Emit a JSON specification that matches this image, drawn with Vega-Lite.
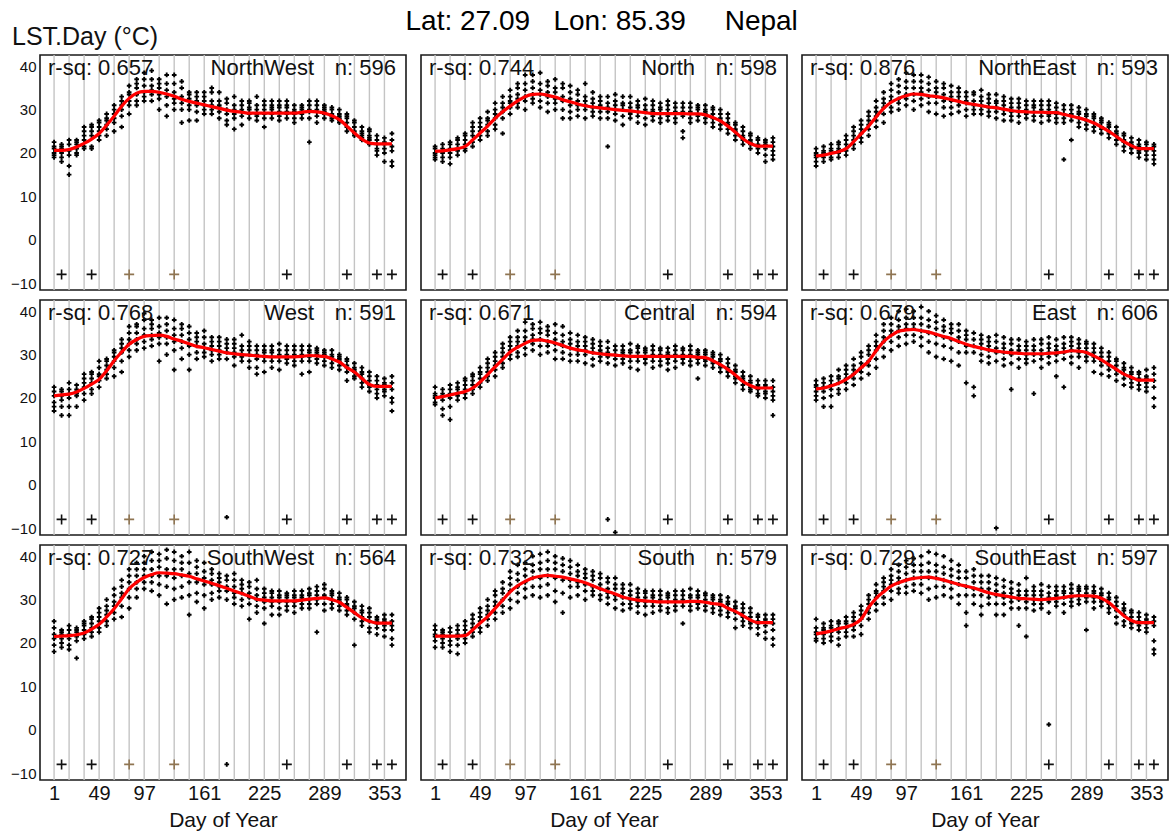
{
"$schema": "https://vega.github.io/schema/vega-lite/v6.json",
"padding": {"left": 10, "top": 8, "right": 5, "bottom": 2},
"bounds": "flush",
"title": {"text": "Lat: 27.09\u00a0\u00a0 Lon: 85.39\u00a0\u00a0\u00a0\u00a0 Nepal", "fontSize": 28, "fontWeight": "normal", "font": "Liberation Sans", "color": "black", "anchor": "middle", "offset": -22, "dx": 12},
"data": {"values": [
{"p":"NW","d":1,"s":20.6,"v":[19,19.5,20,21,21.5,22.5],"r":"r-sq: 0.657","n":"n: 596","m":"NorthWest"},
{"p":"NW","d":9,"s":20.6,"v":[18,19,20,21,21.5,22]},
{"p":"NW","d":17,"s":20.8,"v":[15,17,19.5,20.5,22,23]},
{"p":"NW","d":25,"s":21.4,"v":[19.5,20,21,22,22.5,23]},
{"p":"NW","d":33,"s":22.2,"v":[21,21.5,23,24,25,26]},
{"p":"NW","d":41,"s":23.2,"v":[21,21.5,24,25,26,26.5]},
{"p":"NW","d":49,"s":24.5,"v":[23,24,25,26,27,27.5]},
{"p":"NW","d":57,"s":26.4,"v":[24,25.5,26.5,27.5,28,29]},
{"p":"NW","d":65,"s":28.5,"v":[25,27,28,29,30,31]},
{"p":"NW","d":73,"s":30.8,"v":[26,28.5,30,31,32,33]},
{"p":"NW","d":81,"s":32.6,"v":[29,31,32,33.5,34,35.5]},
{"p":"NW","d":89,"s":33.8,"v":[31,32,33.5,35,36,37]},
{"p":"NW","d":97,"s":34.2,"v":[32,33,34,35.5,37,38.5]},
{"p":"NW","d":105,"s":34.2,"v":[32,33.5,34.5,35.5,37,39]},
{"p":"NW","d":113,"s":34.0,"v":[30,32.5,33.5,35,36,37]},
{"p":"NW","d":121,"s":33.6,"v":[28.5,31,33,34.5,36,38]},
{"p":"NW","d":129,"s":33.1,"v":[30,31.5,32.5,34,36,38]},
{"p":"NW","d":137,"s":32.4,"v":[27,30,31.5,33,35,36.5]},
{"p":"NW","d":145,"s":31.9,"v":[27.5,30,31,32.5,33.5,34]},
{"p":"NW","d":153,"s":31.5,"v":[27.5,29.5,31,32,33,34]},
{"p":"NW","d":161,"s":31.1,"v":[29,30,31,32,33,34]},
{"p":"NW","d":169,"s":30.7,"v":[29,30,31,32,34,35]},
{"p":"NW","d":177,"s":30.3,"v":[28,29.5,30.5,31,32,34]},
{"p":"NW","d":185,"s":29.9,"v":[26.5,27.5,29,30,31.5,32.5]},
{"p":"NW","d":193,"s":29.6,"v":[25.5,28,29,30,31,33]},
{"p":"NW","d":201,"s":29.4,"v":[26.5,28.5,29.5,30,31,32]},
{"p":"NW","d":209,"s":29.2,"v":[28,29,30,30.5,31.5,32]},
{"p":"NW","d":217,"s":29.2,"v":[27.5,28.5,29,30,31,33]},
{"p":"NW","d":225,"s":29.2,"v":[26,28,29,30,31,32]},
{"p":"NW","d":233,"s":29.2,"v":[28,29,30,30.5,31,32]},
{"p":"NW","d":241,"s":29.2,"v":[27.5,28.5,29.5,30.5,31,32]},
{"p":"NW","d":249,"s":29.2,"v":[28,29,29.5,30.5,31,32]},
{"p":"NW","d":257,"s":29.2,"v":[27,28,29,29.5,30,31]},
{"p":"NW","d":265,"s":29.4,"v":[28,29,29.5,30,30.5,31]},
{"p":"NW","d":273,"s":29.6,"v":[22.5,28,29.5,30,31,32]},
{"p":"NW","d":281,"s":29.5,"v":[27,28.5,29.5,30,31,32]},
{"p":"NW","d":289,"s":29.2,"v":[28,29,29.5,30,30.5,31]},
{"p":"NW","d":297,"s":28.6,"v":[27.5,28,28.5,29,30,30.5]},
{"p":"NW","d":305,"s":27.7,"v":[27,27.5,28,28.5,29,30]},
{"p":"NW","d":313,"s":26.2,"v":[25,26,27,28,28.5,29]},
{"p":"NW","d":321,"s":24.6,"v":[24,24.5,25,26,27,27.5]},
{"p":"NW","d":329,"s":23.2,"v":[23,23.5,24,24.5,25,26]},
{"p":"NW","d":337,"s":22.3,"v":[22,23,23.5,24,25,25.5]},
{"p":"NW","d":345,"s":22.1,"v":[19.5,20.5,21,22,23,24]},
{"p":"NW","d":353,"s":22.1,"v":[18,20,21,22,22.5,23.5]},
{"p":"NW","d":361,"s":22.1,"v":[17,18,20.5,21.5,23,24.5]},
{"p":"N","d":1,"s":20.4,"v":[18.5,19,19.5,20,21,21.5],"r":"r-sq: 0.744","n":"n: 598","m":"North"},
{"p":"N","d":9,"s":20.5,"v":[18,19,20,20.5,21,22]},
{"p":"N","d":17,"s":20.7,"v":[17.5,19,20,21,22,22.5]},
{"p":"N","d":25,"s":21.0,"v":[19.5,20.5,21,22,23,23.5]},
{"p":"N","d":33,"s":21.5,"v":[20.5,21,22,23,24,24.5]},
{"p":"N","d":41,"s":23.0,"v":[21.5,22.5,24,25,26,27]},
{"p":"N","d":49,"s":24.6,"v":[23,24,25,26,27,28]},
{"p":"N","d":57,"s":26.2,"v":[24,25,26.5,27.5,28,29.5]},
{"p":"N","d":65,"s":28.0,"v":[25.5,26.5,28,29,30,31.5]},
{"p":"N","d":73,"s":29.5,"v":[24.5,28,29.5,30.5,31.5,33]},
{"p":"N","d":81,"s":30.8,"v":[29,30.5,31.5,32,33,34.5]},
{"p":"N","d":89,"s":32.0,"v":[30.5,31.5,32.5,33.5,35,36]},
{"p":"N","d":97,"s":33.0,"v":[30,32,33,34.5,36,38]},
{"p":"N","d":105,"s":33.5,"v":[31.5,32.5,33.5,35,36.5,38]},
{"p":"N","d":113,"s":33.6,"v":[30.5,32,33.5,34.5,36,38.5]},
{"p":"N","d":121,"s":33.3,"v":[29.5,31.5,33,34,35.5,36.5]},
{"p":"N","d":129,"s":32.9,"v":[30,31.5,32.5,34,35,37]},
{"p":"N","d":137,"s":32.3,"v":[28,30,32,33,35,36]},
{"p":"N","d":145,"s":31.8,"v":[28,29.5,31,32.5,34,35.5]},
{"p":"N","d":153,"s":31.3,"v":[28.5,30,31,32,33.5,34.5]},
{"p":"N","d":161,"s":30.9,"v":[28,30,31,32,33,36]},
{"p":"N","d":169,"s":30.6,"v":[28.5,29.5,30.5,31.5,32.5,34]},
{"p":"N","d":177,"s":30.4,"v":[28,29.5,30.5,31,32,33]},
{"p":"N","d":185,"s":30.2,"v":[21.5,28,29.5,30.5,31.5,33]},
{"p":"N","d":193,"s":30.0,"v":[27.5,29,30,31,32,33.5]},
{"p":"N","d":201,"s":29.8,"v":[26.5,28.5,30,31,31.5,33]},
{"p":"N","d":209,"s":29.7,"v":[28,29,29.5,30.5,31.5,33]},
{"p":"N","d":217,"s":29.5,"v":[27,28.5,29.5,30.5,31,32]},
{"p":"N","d":225,"s":29.3,"v":[26.5,28,29.5,30,31,32.5]},
{"p":"N","d":233,"s":29.1,"v":[27.5,28.5,29.5,30,31,32]},
{"p":"N","d":241,"s":29.1,"v":[27,28,29,30,30.5,31.5]},
{"p":"N","d":249,"s":29.1,"v":[27.5,28.5,29,30,31,32]},
{"p":"N","d":257,"s":29.1,"v":[27,28,29,29.5,30.5,31.5]},
{"p":"N","d":265,"s":29.1,"v":[23.5,25,28.5,29.5,30.5,31.5]},
{"p":"N","d":273,"s":29.0,"v":[27,28,29,29.5,30.5,31.5]},
{"p":"N","d":281,"s":29.0,"v":[27.5,28.5,29,30,30.5,31]},
{"p":"N","d":289,"s":28.8,"v":[27,28,29,29.5,30,31]},
{"p":"N","d":297,"s":28.2,"v":[26,27,28,29,30,30.5]},
{"p":"N","d":305,"s":27.4,"v":[25.5,26.5,27.5,28,29,30]},
{"p":"N","d":313,"s":26.2,"v":[24.5,25.5,26.5,27,28,29]},
{"p":"N","d":321,"s":24.8,"v":[23,24,25,25.5,26.5,27]},
{"p":"N","d":329,"s":23.3,"v":[22,23,23.5,24,25,26]},
{"p":"N","d":337,"s":22.2,"v":[21,22,22.5,23,24,24.5]},
{"p":"N","d":345,"s":21.6,"v":[20,21,21.5,22,23,23.5]},
{"p":"N","d":353,"s":21.6,"v":[18,19.5,21,22,22.5,23]},
{"p":"N","d":361,"s":21.6,"v":[18.5,19.5,20.5,21.5,22.5,23.5]},
{"p":"NE","d":1,"s":19.3,"v":[17,18,19,19.5,20,21],"r":"r-sq: 0.876","n":"n: 593","m":"NorthEast"},
{"p":"NE","d":9,"s":19.5,"v":[18,19,19.5,20,20.5,21.5]},
{"p":"NE","d":17,"s":19.9,"v":[18.5,19,20,20.5,21,22]},
{"p":"NE","d":25,"s":20.3,"v":[19,20,20.5,21,22,22.5]},
{"p":"NE","d":33,"s":21.0,"v":[19.5,20.5,21,22,23,24]},
{"p":"NE","d":41,"s":22.6,"v":[21,22,23,24,25,26]},
{"p":"NE","d":49,"s":24.4,"v":[22.5,23.5,24.5,25.5,26.5,27.5]},
{"p":"NE","d":57,"s":26.2,"v":[24,25.5,26.5,27.5,28.5,29.5]},
{"p":"NE","d":65,"s":28.3,"v":[26,27.5,28.5,29.5,30.5,32]},
{"p":"NE","d":73,"s":30.3,"v":[27,29,30.5,31.5,32.5,34]},
{"p":"NE","d":81,"s":31.7,"v":[29.5,30.5,32,33,34.5,36]},
{"p":"NE","d":89,"s":32.6,"v":[30,31.5,32.5,34,35.5,37]},
{"p":"NE","d":97,"s":33.2,"v":[31,32.5,33.5,35,36.5,38.5]},
{"p":"NE","d":105,"s":33.6,"v":[30,32,33.5,35,36.5,38]},
{"p":"NE","d":113,"s":33.5,"v":[31,32.5,34,35,36.5,38]},
{"p":"NE","d":121,"s":33.2,"v":[29.5,31.5,33,34.5,36,37.5]},
{"p":"NE","d":129,"s":33.0,"v":[29,31.5,33,34,35,36.5]},
{"p":"NE","d":137,"s":32.7,"v":[28.5,30.5,32,33.5,35,36]},
{"p":"NE","d":145,"s":32.3,"v":[29,30.5,32,33,34,35.5]},
{"p":"NE","d":153,"s":31.9,"v":[29.5,31,32,33,34,35]},
{"p":"NE","d":161,"s":31.5,"v":[28.5,30,31.5,32,33,34]},
{"p":"NE","d":169,"s":31.2,"v":[29,30,31,32,33.5,34]},
{"p":"NE","d":177,"s":30.9,"v":[29,30,31,32,33,34.5]},
{"p":"NE","d":185,"s":30.6,"v":[28.5,29.5,30.5,31.5,32.5,33.5]},
{"p":"NE","d":193,"s":30.4,"v":[28,29.5,30.5,31.5,32,33.5]},
{"p":"NE","d":201,"s":30.1,"v":[27.5,29,30,31,32,33]},
{"p":"NE","d":209,"s":29.8,"v":[27.5,28.5,29.5,30.5,31.5,32.5]},
{"p":"NE","d":217,"s":29.6,"v":[27,28.5,29.5,30.5,31.5,32.5]},
{"p":"NE","d":225,"s":29.5,"v":[28,29,29.5,30,31,32]},
{"p":"NE","d":233,"s":29.4,"v":[27.5,28.5,29.5,30.5,31,32]},
{"p":"NE","d":241,"s":29.4,"v":[27,28.5,29.5,30,31,32]},
{"p":"NE","d":249,"s":29.3,"v":[27.5,28.5,29,30,31,32]},
{"p":"NE","d":257,"s":29.3,"v":[27,28,29,29.5,30.5,31.5]},
{"p":"NE","d":265,"s":28.9,"v":[18.5,27,28,29,30,31]},
{"p":"NE","d":273,"s":28.5,"v":[23,27.5,28.5,29,30,31]},
{"p":"NE","d":281,"s":28.1,"v":[26,27,28,29,29.5,30.5]},
{"p":"NE","d":289,"s":27.6,"v":[25.5,26.5,27.5,28.5,29,30]},
{"p":"NE","d":297,"s":26.9,"v":[25,26,27,28,28.5,29]},
{"p":"NE","d":305,"s":26.0,"v":[24.5,25.5,26,27,27.5,28]},
{"p":"NE","d":313,"s":25.0,"v":[23.5,24.5,25,26,26.5,27]},
{"p":"NE","d":321,"s":23.8,"v":[22,23,24,24.5,25,26]},
{"p":"NE","d":329,"s":22.6,"v":[20.5,21.5,22.5,23,24,24.5]},
{"p":"NE","d":337,"s":21.7,"v":[20,21,21.5,22,22.5,23.5]},
{"p":"NE","d":345,"s":21.0,"v":[19,20,20.5,21.5,22,23]},
{"p":"NE","d":353,"s":21.0,"v":[18.5,19.5,20.5,21,22,22.5]},
{"p":"NE","d":361,"s":21.0,"v":[17.5,18.5,19.5,20.5,21.5,22]},
{"p":"W","d":1,"s":20.5,"v":[17,18,19,20.5,21.5,22.5],"r":"r-sq: 0.768","n":"n: 591","m":"West"},
{"p":"W","d":9,"s":20.7,"v":[16,18,19.5,20.5,21.5,22]},
{"p":"W","d":17,"s":20.9,"v":[16,18,20,21,22,23.5]},
{"p":"W","d":25,"s":21.4,"v":[18,20.5,21,21.5,22,23]},
{"p":"W","d":33,"s":22.2,"v":[19.5,21,22.5,23.5,24.5,25.5]},
{"p":"W","d":41,"s":23.2,"v":[21,22,23.5,24.5,25.5,26]},
{"p":"W","d":49,"s":24.3,"v":[22.5,24,25,25.5,27,28.5]},
{"p":"W","d":57,"s":26.3,"v":[24.5,25.5,26.5,27.5,28.5,29]},
{"p":"W","d":65,"s":28.6,"v":[25,27,28.5,29.5,30.5,31]},
{"p":"W","d":73,"s":30.6,"v":[26,28.5,30.5,31.5,32.5,33.5]},
{"p":"W","d":81,"s":32.4,"v":[29.5,31,32.5,33.5,35,36.5]},
{"p":"W","d":89,"s":33.5,"v":[31,32.5,33.5,35,36.5,37]},
{"p":"W","d":97,"s":34.2,"v":[31.5,33,34.5,36,38,39.5]},
{"p":"W","d":105,"s":34.4,"v":[32,33.5,34.5,36,37,38]},
{"p":"W","d":113,"s":34.5,"v":[28.5,32.5,34,35,36.5,38.5]},
{"p":"W","d":121,"s":34.2,"v":[30,32.5,34,35.5,37,38.5]},
{"p":"W","d":129,"s":33.6,"v":[26.5,31,33,34.5,36,38]},
{"p":"W","d":137,"s":33.1,"v":[29,31.5,33,34.5,36,37]},
{"p":"W","d":145,"s":32.5,"v":[26.5,30,32,33.5,35,36.5]},
{"p":"W","d":153,"s":31.9,"v":[29,30.5,32,33,34,35]},
{"p":"W","d":161,"s":31.6,"v":[29.5,30.5,31.5,32.5,34,35.5]},
{"p":"W","d":169,"s":31.2,"v":[28.5,30,31,32,33,34]},
{"p":"W","d":177,"s":30.8,"v":[29,30,31,32,33,34]},
{"p":"W","d":185,"s":30.4,"v":[-7.5,29,30.5,31.5,32.5,33.5]},
{"p":"W","d":193,"s":30.2,"v":[27.5,29.5,30.5,31.5,32.5,33.5]},
{"p":"W","d":201,"s":30.0,"v":[28.5,29.5,30,31,32,34.5]},
{"p":"W","d":209,"s":29.9,"v":[27,28.5,30,31,32,33]},
{"p":"W","d":217,"s":29.7,"v":[25.5,27,29,30,31,32]},
{"p":"W","d":225,"s":29.6,"v":[26,28.5,29.5,30.5,31,32]},
{"p":"W","d":233,"s":29.5,"v":[27,28.5,29.5,30.5,31,32]},
{"p":"W","d":241,"s":29.5,"v":[26.5,28.5,29.5,30,31,32.5]},
{"p":"W","d":249,"s":29.5,"v":[28,29,29.5,30,31,32]},
{"p":"W","d":257,"s":29.5,"v":[27.5,28.5,29.5,30,31,32]},
{"p":"W","d":265,"s":29.6,"v":[25.5,28.5,29.5,30,31,32]},
{"p":"W","d":273,"s":29.8,"v":[26,28.5,29.5,30.5,31,32]},
{"p":"W","d":281,"s":29.7,"v":[28,29,30,30.5,31,31.5]},
{"p":"W","d":289,"s":29.6,"v":[27.5,28.5,29.5,30,30.5,31]},
{"p":"W","d":297,"s":29.0,"v":[27,28,29,29.5,30,31]},
{"p":"W","d":305,"s":28.3,"v":[26.5,27.5,28.5,29,29.5,30]},
{"p":"W","d":313,"s":27.0,"v":[24,26,27,27.5,28.5,29]},
{"p":"W","d":321,"s":26.0,"v":[24.5,25,26,26.5,27,28]},
{"p":"W","d":329,"s":24.5,"v":[22.5,23.5,24.5,25.5,26,27]},
{"p":"W","d":337,"s":23.1,"v":[21.5,22.5,23,24,25,26]},
{"p":"W","d":345,"s":22.7,"v":[20,21,22,23,24,25]},
{"p":"W","d":353,"s":22.7,"v":[20.5,21.5,22,23,23.5,24.5]},
{"p":"W","d":361,"s":22.7,"v":[17,19,20,22,23.5,25]},
{"p":"C","d":1,"s":20.0,"v":[18.5,19,20,20.5,21,22.5],"r":"r-sq: 0.671","n":"n: 594","m":"Central"},
{"p":"C","d":9,"s":20.3,"v":[16,17.5,19.5,20.5,21,22]},
{"p":"C","d":17,"s":20.7,"v":[15,18,20,21,22,23]},
{"p":"C","d":25,"s":21.1,"v":[19.5,20.5,21,22,22.5,23.5]},
{"p":"C","d":33,"s":21.5,"v":[20,21,22,23,24,24.5]},
{"p":"C","d":41,"s":22.3,"v":[21,22,23,24,25,25.5]},
{"p":"C","d":49,"s":23.7,"v":[22.5,23.5,24.5,25.5,26,27]},
{"p":"C","d":57,"s":25.4,"v":[24,25,26,27,28,29]},
{"p":"C","d":65,"s":27.2,"v":[25,26.5,27.5,28.5,29.5,30.5]},
{"p":"C","d":73,"s":28.9,"v":[27,28,29.5,30.5,31.5,32.5]},
{"p":"C","d":81,"s":30.6,"v":[29,30,31,32,33,34]},
{"p":"C","d":89,"s":31.7,"v":[29.5,30.5,32,33,34,35.5]},
{"p":"C","d":97,"s":32.6,"v":[30,31.5,33,34,35.5,37.5]},
{"p":"C","d":105,"s":33.3,"v":[31,32.5,33.5,34.5,36,37]},
{"p":"C","d":113,"s":33.4,"v":[30,32,33.5,35,36,37.5]},
{"p":"C","d":121,"s":33.1,"v":[30.5,32,33,34.5,35.5,36.5]},
{"p":"C","d":129,"s":32.7,"v":[29,31,32.5,33.5,35,37]},
{"p":"C","d":137,"s":32.1,"v":[29,30.5,32,33,34.5,36.5]},
{"p":"C","d":145,"s":31.5,"v":[28.5,30,31.5,32.5,33.5,35]},
{"p":"C","d":153,"s":31.1,"v":[28.5,30,31,32,33,34.5]},
{"p":"C","d":161,"s":30.8,"v":[28,30,31,32,33,34]},
{"p":"C","d":169,"s":30.4,"v":[27.5,29,30.5,31.5,32.5,33.5]},
{"p":"C","d":177,"s":30.2,"v":[28.5,29.5,30.5,31,32,33]},
{"p":"C","d":185,"s":30.0,"v":[-8,28,29.5,30.5,31.5,33]},
{"p":"C","d":193,"s":29.9,"v":[-11,27.5,29,30,31,32]},
{"p":"C","d":201,"s":29.7,"v":[28,29,30,30.5,31,32]},
{"p":"C","d":209,"s":29.6,"v":[27,28.5,29.5,30.5,31,32.5]},
{"p":"C","d":217,"s":29.6,"v":[26.5,28.5,29.5,30.5,31.5,32]},
{"p":"C","d":225,"s":29.6,"v":[28,29,29.5,30.5,31,31.5]},
{"p":"C","d":233,"s":29.6,"v":[27,28.5,29.5,30,31,32]},
{"p":"C","d":241,"s":29.6,"v":[27.5,28.5,29.5,30,31,31.5]},
{"p":"C","d":249,"s":29.6,"v":[26.5,28,29,30,30.5,31.5]},
{"p":"C","d":257,"s":29.6,"v":[27,28.5,29.5,30,31,32]},
{"p":"C","d":265,"s":29.6,"v":[28,29,29.5,30,31,31.5]},
{"p":"C","d":273,"s":29.6,"v":[27.5,28.5,29.5,30,31,32]},
{"p":"C","d":281,"s":29.4,"v":[24.5,28,29,30,30.5,31]},
{"p":"C","d":289,"s":29.3,"v":[27.5,28.5,29,30,30.5,31]},
{"p":"C","d":297,"s":28.6,"v":[27,28,28.5,29.5,30,30.5]},
{"p":"C","d":305,"s":27.7,"v":[26,27,27.5,28.5,29,30]},
{"p":"C","d":313,"s":26.6,"v":[25,26,26.5,27,28,29]},
{"p":"C","d":321,"s":25.3,"v":[23.5,24.5,25,26,26.5,27.5]},
{"p":"C","d":329,"s":23.8,"v":[22,23,24,24.5,25,26]},
{"p":"C","d":337,"s":22.9,"v":[21.5,22,22.5,23.5,24,25]},
{"p":"C","d":345,"s":22.3,"v":[20.5,21,22,22.5,23,24]},
{"p":"C","d":353,"s":22.3,"v":[20,21,21.5,22.5,23,24]},
{"p":"C","d":361,"s":22.3,"v":[16,19.5,20.5,21.5,22.5,24]},
{"p":"E","d":1,"s":22.1,"v":[19.5,20.5,21.5,22.5,23,24],"r":"r-sq: 0.679","n":"n: 606","m":"East"},
{"p":"E","d":9,"s":22.3,"v":[18,20,21.5,22.5,23.5,24.5]},
{"p":"E","d":17,"s":22.8,"v":[18,20.5,22,23,24,25]},
{"p":"E","d":25,"s":23.4,"v":[21,22,23.5,24.5,25,26.5]},
{"p":"E","d":33,"s":24.3,"v":[22,23.5,24.5,25.5,26.5,27.5]},
{"p":"E","d":41,"s":25.5,"v":[23,24.5,25.5,26.5,27.5,29]},
{"p":"E","d":49,"s":27.0,"v":[24.5,26,27,28,29.5,30.5]},
{"p":"E","d":57,"s":28.5,"v":[25.5,27.5,28.5,30,31,32]},
{"p":"E","d":65,"s":30.9,"v":[27,29,31,32,33,34.5]},
{"p":"E","d":73,"s":33.0,"v":[29.5,31.5,33,34,35.5,37]},
{"p":"E","d":81,"s":34.4,"v":[31,33,34.5,35.5,37,38.5]},
{"p":"E","d":89,"s":35.4,"v":[32,34,35.5,36.5,38,40]},
{"p":"E","d":97,"s":35.7,"v":[32.5,34.5,36,37,38.5,40.5]},
{"p":"E","d":105,"s":35.8,"v":[33,34.5,36,37,38.5,40]},
{"p":"E","d":113,"s":35.5,"v":[32,34,35.5,37,38.5,41]},
{"p":"E","d":121,"s":35.2,"v":[30.5,33,35,36.5,38,40]},
{"p":"E","d":129,"s":34.7,"v":[29.5,32.5,34.5,36,37.5,39]},
{"p":"E","d":137,"s":34.2,"v":[29,32,34,35.5,36.5,38]},
{"p":"E","d":145,"s":33.7,"v":[28.5,31.5,33.5,35,36,37]},
{"p":"E","d":153,"s":33.0,"v":[27.5,30.5,33,34,35.5,37]},
{"p":"E","d":161,"s":32.4,"v":[23.5,30.5,32,33.5,34.5,35.5]},
{"p":"E","d":169,"s":31.9,"v":[20.5,22.5,30.5,32,33.5,35]},
{"p":"E","d":177,"s":31.5,"v":[28.5,30,31.5,32.5,33.5,34.5]},
{"p":"E","d":185,"s":31.1,"v":[28,29.5,31,32,33,34]},
{"p":"E","d":193,"s":30.8,"v":[-10,28.5,30.5,31.5,33,34.5]},
{"p":"E","d":201,"s":30.6,"v":[27.5,29,30.5,31.5,32.5,34]},
{"p":"E","d":209,"s":30.4,"v":[22,28,30,31,32.5,33.5]},
{"p":"E","d":217,"s":30.3,"v":[27,29,30.5,31,32,33.5]},
{"p":"E","d":225,"s":30.2,"v":[28,29,30,31,32,33]},
{"p":"E","d":233,"s":30.2,"v":[21,28.5,30,31,32,33.5]},
{"p":"E","d":241,"s":30.2,"v":[27,29,30,31,32.5,33.5]},
{"p":"E","d":249,"s":30.3,"v":[28,29.5,30.5,31.5,32.5,34]},
{"p":"E","d":257,"s":30.4,"v":[25,28.5,30,31,32,33.5]},
{"p":"E","d":265,"s":30.6,"v":[22.5,29,30.5,31.5,32.5,34]},
{"p":"E","d":273,"s":30.9,"v":[28,29.5,31,32,33,34]},
{"p":"E","d":281,"s":30.8,"v":[27,29.5,30.5,31.5,32.5,33.5]},
{"p":"E","d":289,"s":30.5,"v":[28.5,29.5,30.5,31.5,32.5,33]},
{"p":"E","d":297,"s":29.7,"v":[26,28.5,29.5,30.5,31.5,32.5]},
{"p":"E","d":305,"s":28.8,"v":[25.5,27.5,28.5,29.5,30.5,31.5]},
{"p":"E","d":313,"s":27.7,"v":[25,26.5,27.5,28.5,29.5,30.5]},
{"p":"E","d":321,"s":26.6,"v":[24,25.5,26.5,27.5,28.5,29]},
{"p":"E","d":329,"s":25.5,"v":[23,24.5,25.5,26.5,27,28]},
{"p":"E","d":337,"s":24.8,"v":[22.5,23.5,24.5,25.5,26,27]},
{"p":"E","d":345,"s":24.1,"v":[22,23,24,24.5,25.5,26]},
{"p":"E","d":353,"s":24.1,"v":[21.5,22.5,23.5,24.5,25,26.5]},
{"p":"E","d":361,"s":24.1,"v":[18,20,22.5,24,25.5,27]},
{"p":"SW","d":1,"s":21.5,"v":[18,19.5,21,22,23.5,25],"r":"r-sq: 0.727","n":"n: 564","m":"SouthWest"},
{"p":"SW","d":9,"s":21.6,"v":[19,20,21,22,22.5,23]},
{"p":"SW","d":17,"s":21.7,"v":[18.5,19.5,21,22,23,24]},
{"p":"SW","d":25,"s":21.9,"v":[16.5,20.5,21.5,22.5,23,23.5]},
{"p":"SW","d":33,"s":22.3,"v":[21,22,23,24,24.5,25]},
{"p":"SW","d":41,"s":23.2,"v":[21.5,22.5,23.5,24.5,25.5,26]},
{"p":"SW","d":49,"s":24.3,"v":[22.5,23.5,25,26,27,28]},
{"p":"SW","d":57,"s":26.0,"v":[24,25,26.5,27.5,28.5,30]},
{"p":"SW","d":65,"s":27.9,"v":[25.5,27,28.5,29.5,31,32.5]},
{"p":"SW","d":73,"s":30.2,"v":[26,28.5,30.5,31.5,33,34.5]},
{"p":"SW","d":81,"s":32.5,"v":[28,30.5,32.5,34,35.5,37]},
{"p":"SW","d":89,"s":34.0,"v":[30.5,32.5,34,35.5,37,38.5]},
{"p":"SW","d":97,"s":35.1,"v":[32.5,34,35.5,37,38.5,40]},
{"p":"SW","d":105,"s":35.8,"v":[32,34,35.5,37,39,41]},
{"p":"SW","d":113,"s":36.2,"v":[31,33.5,35.5,37.5,39,40.5]},
{"p":"SW","d":121,"s":36.1,"v":[29,33,35.5,37,39.5,41.5]},
{"p":"SW","d":129,"s":36.0,"v":[30,32.5,35,37,39,41]},
{"p":"SW","d":137,"s":35.7,"v":[30.5,33,35.5,37,38.5,40]},
{"p":"SW","d":145,"s":35.4,"v":[26.5,31,34,36,38.5,41]},
{"p":"SW","d":153,"s":34.8,"v":[29.5,31.5,34,36,37.5,39]},
{"p":"SW","d":161,"s":34.3,"v":[28,31,33.5,35,36.5,38.5]},
{"p":"SW","d":169,"s":33.8,"v":[30,31.5,33.5,34.5,36,37]},
{"p":"SW","d":177,"s":33.2,"v":[30.5,32,33,34,35,36]},
{"p":"SW","d":185,"s":32.6,"v":[-8,30,32,33,34.5,35.5]},
{"p":"SW","d":193,"s":32.0,"v":[29,30.5,31.5,33,34.5,36]},
{"p":"SW","d":201,"s":31.4,"v":[28.5,30,31.5,32.5,33.5,34.5]},
{"p":"SW","d":209,"s":30.8,"v":[25.5,29,30.5,31.5,33,34]},
{"p":"SW","d":217,"s":30.1,"v":[27,28.5,30,31,32.5,34.5]},
{"p":"SW","d":225,"s":29.9,"v":[24.5,28,29.5,30.5,31.5,32.5]},
{"p":"SW","d":233,"s":29.7,"v":[26.5,28.5,29.5,30.5,31.5,32]},
{"p":"SW","d":241,"s":29.7,"v":[26.5,28,29.5,30.5,31,32]},
{"p":"SW","d":249,"s":29.7,"v":[27.5,28.5,29.5,30.5,31,31.5]},
{"p":"SW","d":257,"s":29.7,"v":[27,28.5,29.5,30.5,31,32]},
{"p":"SW","d":265,"s":29.9,"v":[28,29,30,30.5,31,32]},
{"p":"SW","d":273,"s":30.1,"v":[28,29,30,31,31.5,32.5]},
{"p":"SW","d":281,"s":30.3,"v":[22.5,29,30,31,32,33]},
{"p":"SW","d":289,"s":30.4,"v":[27.5,29,30.5,31,32.5,33.5]},
{"p":"SW","d":297,"s":30.0,"v":[28,29,30,31,31.5,32]},
{"p":"SW","d":305,"s":29.4,"v":[27.5,28.5,29.5,30,30.5,31.5]},
{"p":"SW","d":313,"s":28.2,"v":[26.5,27.5,28.5,29,30,30.5]},
{"p":"SW","d":321,"s":27.0,"v":[19.5,25.5,27,28,28.5,29.5]},
{"p":"SW","d":329,"s":25.8,"v":[24,25,26,27,27.5,28.5]},
{"p":"SW","d":337,"s":25.0,"v":[22.5,23.5,25,26,27,28]},
{"p":"SW","d":345,"s":24.6,"v":[22,23.5,24.5,25,25.5,26]},
{"p":"SW","d":353,"s":24.6,"v":[21.5,23,24,25,25.5,26.5]},
{"p":"SW","d":361,"s":24.6,"v":[19.5,21,23,24,25,26.5]},
{"p":"S","d":1,"s":21.6,"v":[19,20.5,21.5,22,23,24],"r":"r-sq: 0.732","n":"n: 579","m":"South"},
{"p":"S","d":9,"s":21.6,"v":[19,20,21,22,22.5,23]},
{"p":"S","d":17,"s":21.6,"v":[18,19.5,20.5,21.5,22.5,23.5]},
{"p":"S","d":25,"s":21.6,"v":[17.5,19.5,21,22,23,24]},
{"p":"S","d":33,"s":21.7,"v":[20,21,22,23,24,25]},
{"p":"S","d":41,"s":23.0,"v":[21.5,22.5,23.5,24.5,25.5,26.5]},
{"p":"S","d":49,"s":24.6,"v":[22.5,23.5,25,26,27,28]},
{"p":"S","d":57,"s":26.1,"v":[24,25.5,26.5,27.5,28.5,30]},
{"p":"S","d":65,"s":28.0,"v":[25.5,27,28.5,29.5,31,32]},
{"p":"S","d":73,"s":29.9,"v":[27,28.5,30,31.5,32.5,34]},
{"p":"S","d":81,"s":31.8,"v":[28,30,32,33.5,35,36.5]},
{"p":"S","d":89,"s":33.2,"v":[29.5,31.5,33,34.5,36,38]},
{"p":"S","d":97,"s":34.2,"v":[30.5,32.5,34,35.5,37,38.5]},
{"p":"S","d":105,"s":35.0,"v":[31,33,35,36.5,38,40]},
{"p":"S","d":113,"s":35.4,"v":[30.5,33,35,37,38.5,40.5]},
{"p":"S","d":121,"s":35.6,"v":[31,33.5,35.5,37,39,41]},
{"p":"S","d":129,"s":35.4,"v":[29.5,32,35,37,38.5,40]},
{"p":"S","d":137,"s":35.2,"v":[27,31.5,34.5,36.5,38,39.5]},
{"p":"S","d":145,"s":34.8,"v":[30.5,33,34.5,36,37.5,39]},
{"p":"S","d":153,"s":34.4,"v":[31,33,34,35.5,36.5,38]},
{"p":"S","d":161,"s":33.9,"v":[30,32,33.5,35,36,37]},
{"p":"S","d":169,"s":33.2,"v":[31,32,33,34.5,35.5,36.5]},
{"p":"S","d":177,"s":32.5,"v":[30,31,32.5,33.5,35,36]},
{"p":"S","d":185,"s":31.9,"v":[29,30.5,31.5,32.5,34,35]},
{"p":"S","d":193,"s":31.3,"v":[28,30,31,32.5,33.5,35]},
{"p":"S","d":201,"s":30.6,"v":[27.5,29,30.5,31.5,32.5,33.5]},
{"p":"S","d":209,"s":30.2,"v":[28,29,30,31,32,33.5]},
{"p":"S","d":217,"s":29.9,"v":[27,28.5,29.5,30.5,31.5,32.5]},
{"p":"S","d":225,"s":29.7,"v":[26.5,28.5,29.5,30.5,31.5,32]},
{"p":"S","d":233,"s":29.6,"v":[27,28.5,29.5,30.5,31,32]},
{"p":"S","d":241,"s":29.5,"v":[27.5,28.5,29.5,30,31,32]},
{"p":"S","d":249,"s":29.5,"v":[27,28,29.5,30.5,31,31.5]},
{"p":"S","d":257,"s":29.5,"v":[27.5,28.5,29.5,30,31,32]},
{"p":"S","d":265,"s":29.5,"v":[24.5,28.5,29.5,30,31,32]},
{"p":"S","d":273,"s":29.6,"v":[27.5,28.5,29.5,30.5,31,32.5]},
{"p":"S","d":281,"s":29.6,"v":[28,29,29.5,30.5,31,32]},
{"p":"S","d":289,"s":29.4,"v":[27.5,28.5,29.5,30,31,31.5]},
{"p":"S","d":297,"s":29.1,"v":[27,28,29,30,30.5,31]},
{"p":"S","d":305,"s":28.9,"v":[26.5,27.5,28.5,29.5,30,31]},
{"p":"S","d":313,"s":28.0,"v":[26,27,28,29,29.5,30.5]},
{"p":"S","d":321,"s":27.3,"v":[23.5,25.5,27,28,28.5,29.5]},
{"p":"S","d":329,"s":26.3,"v":[24,25,26,27,28,29]},
{"p":"S","d":337,"s":25.3,"v":[23.5,24.5,25,26,27,28]},
{"p":"S","d":345,"s":24.7,"v":[22,23.5,24.5,25,26,26.5]},
{"p":"S","d":353,"s":24.7,"v":[21,22.5,24,25,25.5,26.5]},
{"p":"S","d":361,"s":24.7,"v":[19.5,21,23,24.5,25.5,26.5]},
{"p":"SE","d":1,"s":22.1,"v":[20.5,21,22,22.5,23.5,25.5],"r":"r-sq: 0.729","n":"n: 597","m":"SouthEast"},
{"p":"SE","d":9,"s":22.4,"v":[20,21,22,23,23.5,24.5]},
{"p":"SE","d":17,"s":22.8,"v":[20.5,21.5,22.5,23.5,24,25]},
{"p":"SE","d":25,"s":23.3,"v":[19.5,21,22.5,23.5,24.5,25]},
{"p":"SE","d":33,"s":23.7,"v":[21.5,22.5,23.5,24.5,25,26]},
{"p":"SE","d":41,"s":24.3,"v":[21.5,23,24,25,26,27]},
{"p":"SE","d":49,"s":25.5,"v":[22,24,25.5,26.5,27.5,28.5]},
{"p":"SE","d":57,"s":28.2,"v":[25.5,27,28,29,30,31]},
{"p":"SE","d":65,"s":30.3,"v":[27.5,29,30.5,31.5,32,33.5]},
{"p":"SE","d":73,"s":31.8,"v":[29,30.5,32,33,34,35]},
{"p":"SE","d":81,"s":33.1,"v":[30,32,33.5,34.5,35.5,37]},
{"p":"SE","d":89,"s":33.9,"v":[31.5,32.5,34,35,36.5,38]},
{"p":"SE","d":97,"s":34.5,"v":[31.5,33,34.5,36,37.5,39]},
{"p":"SE","d":105,"s":34.9,"v":[32,33.5,35,36.5,38,39.5]},
{"p":"SE","d":113,"s":35.1,"v":[31.5,33.5,35,36.5,38,40]},
{"p":"SE","d":121,"s":35.2,"v":[30,32.5,35,36.5,38.5,41]},
{"p":"SE","d":129,"s":34.9,"v":[30.5,33,35,36.5,38,40.5]},
{"p":"SE","d":137,"s":34.5,"v":[31,33,34.5,36,37.5,40]},
{"p":"SE","d":145,"s":34.0,"v":[30.5,32.5,34,35.5,37,39]},
{"p":"SE","d":153,"s":33.5,"v":[29,31,33.5,35,36.5,38]},
{"p":"SE","d":161,"s":33.1,"v":[24,27,31,33,35,36.5]},
{"p":"SE","d":169,"s":32.7,"v":[29,31,32.5,34,35.5,37]},
{"p":"SE","d":177,"s":32.1,"v":[26.5,28.5,31,32.5,34,35.5]},
{"p":"SE","d":185,"s":31.6,"v":[29,30.5,31.5,32.5,34,35.5]},
{"p":"SE","d":193,"s":31.2,"v":[26.5,29,31,32,33.5,35]},
{"p":"SE","d":201,"s":30.9,"v":[26.5,29,30.5,31.5,33,34.5]},
{"p":"SE","d":209,"s":30.6,"v":[28,29.5,30.5,31.5,32.5,34]},
{"p":"SE","d":217,"s":30.3,"v":[24,28,30,31,32,33.5]},
{"p":"SE","d":225,"s":30.2,"v":[21.5,28,29.5,31,32,35]},
{"p":"SE","d":233,"s":30.1,"v":[27.5,29,30,31,32,33]},
{"p":"SE","d":241,"s":30.0,"v":[28,29,30,31,32,33.5]},
{"p":"SE","d":249,"s":30.1,"v":[1.2,27,29.5,30.5,31.5,33]},
{"p":"SE","d":257,"s":30.3,"v":[28.5,29.5,30.5,31,32,33]},
{"p":"SE","d":265,"s":30.5,"v":[27,29,30.5,31.5,32,33]},
{"p":"SE","d":273,"s":30.8,"v":[28.5,29.5,30.5,31.5,32.5,33.5]},
{"p":"SE","d":281,"s":30.9,"v":[29,30,31,32,32.5,33]},
{"p":"SE","d":289,"s":30.9,"v":[23,29.5,30.5,31.5,32.5,33]},
{"p":"SE","d":297,"s":30.8,"v":[28,29.5,30.5,31.5,32,33]},
{"p":"SE","d":305,"s":30.3,"v":[28.5,29.5,30,31,31.5,32.5]},
{"p":"SE","d":313,"s":29.3,"v":[27,28,29,30,30.5,31.5]},
{"p":"SE","d":321,"s":27.8,"v":[24.5,26,27.5,28.5,29.5,30.5]},
{"p":"SE","d":329,"s":26.3,"v":[24,25,26.5,27.5,28,29]},
{"p":"SE","d":337,"s":25.2,"v":[23.5,24.5,25,26,27,27.5]},
{"p":"SE","d":345,"s":24.7,"v":[23,24,24.5,25,26,27]},
{"p":"SE","d":353,"s":24.7,"v":[22.5,23.5,24.5,25,25.5,26.5]},
{"p":"SE","d":361,"s":24.7,"v":[17.5,18.5,20.5,24,25,26]}
]},
"transform": [{"flatten": ["v"], "as": ["t"]}],
"facet": {"field": "p", "type": "nominal", "sort": ["NW","N","NE","W","C","E","SW","S","SE"], "header": {"labels": false, "labelExpr": "''", "labelPadding": 0}, "title": null},
"columns": 3,
"spacing": {"row": 10, "column": 15},
"spec": {
  "width": 366,
  "height": 235,
  "layer": [
    {
      "transform": [{"filter": "datum.d <= 353 && (datum.d - 1) % 16 == 0"}, {"aggregate": [{"op": "count", "as": "k"}], "groupby": ["p", "d"]}],
      "mark": {"type": "rule", "color": "#c4c4c4", "strokeWidth": 1.4},
      "encoding": {
        "x": {"field": "d", "type": "quantitative", "title": "Day of Year",
              "scale": {"domain": [-14, 376], "nice": false, "zero": false},
              "axis": {"values": [1,49,97,161,225,289,353], "grid": false, "ticks": false, "domain": false,
                       "labelFontSize": 20, "labelPadding": 3, "labelOverlap": false, "labelFlush": false,
                       "titleFontSize": 21, "titleFontWeight": "normal", "titlePadding": 6}}
      }
    },
    {
      "mark": {"type": "point", "shape": "cross", "filled": true, "size": 22, "color": "black", "opacity": 1},
      "encoding": {
        "x": {"field": "d", "type": "quantitative", "title": "Day of Year"},
        "y": {"field": "t", "type": "quantitative", "title": null,
              "scale": {"domain": [-11.6, 42.6], "nice": false, "zero": false},
              "axis": {"values": [-10,0,10,20,30,40], "grid": false, "ticks": false, "domain": false, "labelFontSize": 15, "labelPadding": 4}}
      }
    },
    {
      "transform": [{"aggregate": [{"op": "mean", "field": "s", "as": "sm"}], "groupby": ["p", "d"]}],
      "mark": {"type": "line", "color": "#ff0000", "strokeWidth": 3.2, "interpolate": "monotone"},
      "encoding": {
        "x": {"field": "d", "type": "quantitative", "title": "Day of Year"},
        "y": {"field": "sm", "type": "quantitative", "title": null}
      }
    },
    {
      "transform": [{"filter": "indexof([9,41,81,129,249,313,345,361], datum.d) >= 0"}, {"aggregate": [{"op": "count", "as": "k"}], "groupby": ["p", "d"]}],
      "mark": {"type": "point", "shape": "M-1,0H1M0,-1V1", "filled": false, "size": 100, "strokeWidth": 1.6, "opacity": 1},
      "encoding": {
        "x": {"field": "d", "type": "quantitative", "title": "Day of Year"},
        "y": {"datum": -8},
        "color": {"condition": {"test": "datum.d == 81 || datum.d == 129", "value": "#8f7552"}, "value": "#111111"}
      }
    },
    {
      "transform": [{"filter": "isValid(datum.r)"}, {"aggregate": [{"op": "count", "as": "k"}], "groupby": ["p", "r", "m", "n"]}],
      "layer": [
        {
          "mark": {"type": "text", "align": "left", "baseline": "middle", "fontSize": 22, "dx": 8, "color": "#111111"},
          "encoding": {"x": {"datum": -14}, "y": {"datum": 39.6}, "text": {"field": "r"}}
        },
        {
          "mark": {"type": "text", "align": "right", "baseline": "middle", "fontSize": 22, "color": "#111111"},
          "encoding": {"x": {"datum": 278}, "y": {"datum": 39.6}, "text": {"field": "m"}}
        },
        {
          "mark": {"type": "text", "align": "right", "baseline": "middle", "fontSize": 22, "dx": -10, "color": "#111111"},
          "encoding": {"x": {"datum": 376}, "y": {"datum": 39.6}, "text": {"field": "n"}}
        }
      ]
    },
    {
      "transform": [{"filter": "datum.p == 'NW' && datum.d == 1"}, {"aggregate": [{"op": "count", "as": "k"}], "groupby": ["p"]}],
      "mark": {"type": "text", "align": "left", "baseline": "middle", "fontSize": 25, "dx": -28, "dy": -18, "color": "#111111"},
      "encoding": {"x": {"datum": -14}, "y": {"datum": 42.6}, "text": {"value": "LST.Day (°C)"}}
    }
  ]
},
"config": {
  "font": "Liberation Sans",
  "view": {"stroke": "#1a1a1a", "strokeWidth": 1.6},
  "axis": {"labelColor": "#111111", "titleColor": "#111111", "labelFont": "Liberation Sans", "titleFont": "Liberation Sans"},
  "header": {"labels": false},
  "headerFacet": {"labels": false},
  "text": {"font": "Liberation Sans"}
}
}
